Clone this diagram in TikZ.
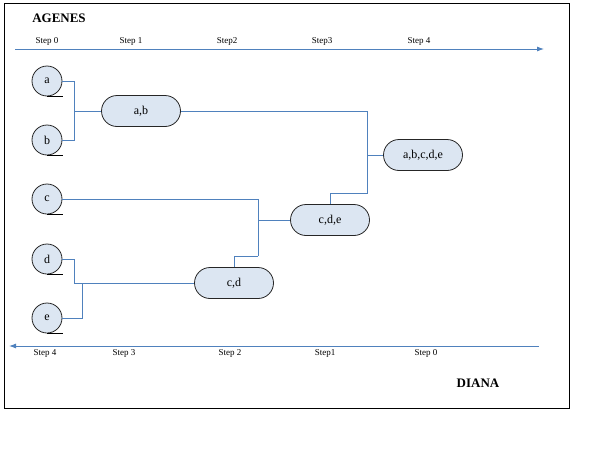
\documentclass[tikz,border=0pt]{standalone}
\usepackage{fontspec}
\setmainfont{Liberation Serif}
\usetikzlibrary{shapes.misc,arrows.meta}
\definecolor{linkblue}{HTML}{4F81BD}
\definecolor{nodefill}{HTML}{DCE6F2}
\begin{document}
\begin{tikzpicture}[x=1pt,y=-1pt,
  link/.style={draw=linkblue, line width=0.9pt},
  leaf/.style={circle, draw=black!85, fill=nodefill, minimum size=30pt, inner sep=0pt, line width=0.8pt, font=\fontsize{12}{14}\selectfont},
  cluster/.style={rounded rectangle, draw=black!85, fill=nodefill, minimum width=79pt, minimum height=31pt, inner sep=0pt, line width=0.8pt, font=\fontsize{12}{14}\selectfont},
  steplbl/.style={font=\fontsize{9}{10}\selectfont, inner sep=0pt},
  title/.style={font=\fontsize{13}{15}\selectfont\bfseries, inner sep=0pt},
  axisarrow/.style={draw=linkblue, line width=0.9pt, -{Latex[length=7pt,width=5pt]}},
  tail/.style={draw=black, line width=0.9pt}
]
\useasboundingbox[fill=white] (0,0) rectangle (600,450);
\draw[black, line width=1pt] (4,3) rectangle (569,408);

% titles
\node[title] (agenes) at (59,18) {AGENES};
\node[title] (diana) at (478,383) {DIANA};

% top axis
\coordinate (ta) at (15,49);
\coordinate (tb) at (544,49);
\draw[axisarrow] (ta) -- (tb);
\node[steplbl] (s0) at (47,41) {Step 0};
\node[steplbl] (s1) at (131,41) {Step 1};
\node[steplbl] (s2) at (227,41) {Step2};
\node[steplbl] (s3) at (322,41) {Step3};
\node[steplbl] (s4) at (419,41) {Step 4};

% bottom axis
\coordinate (ba) at (539,346);
\coordinate (bb) at (9,346);
\draw[axisarrow] (ba) -- (bb);
\node[steplbl] (r4) at (45,353) {Step 4};
\node[steplbl] (r3) at (124,353) {Step 3};
\node[steplbl] (r2) at (230,353) {Step 2};
\node[steplbl] (r1) at (325,353) {Step1};
\node[steplbl] (r0) at (426,353) {Step 0};

% leaves
\node[leaf] (a) at (47,81) {a};
\node[leaf] (b) at (47,140) {b};
\node[leaf] (c) at (47,199) {c};
\node[leaf] (d) at (47,259) {d};
\node[leaf] (e) at (47,318) {e};
\foreach \n in {a,b,c,d,e}{
  \draw[tail] (\n.south) -- ++(16,0);
}

% clusters
\node[cluster] (ab) at (141,111) {a,b};
\node[cluster] (cd) at (234,283) {c,d};
\node[cluster] (cde) at (330,220) {c,d,e};
\node[cluster] (abcde) at (423,155) {a,b,c,d,e};

% connectors
\coordinate (jab) at (74,111);
\draw[link] (a.east) -| (jab);
\draw[link] (b.east) -| (jab);
\draw[link] (jab) -- (ab.west);

\coordinate (jd) at (74,283);
\coordinate (je) at (82,283);
\draw[link] (d.east) -| (jd) -- (cd.west);
\draw[link] (e.east) -| (je);

\coordinate (jc) at (258,220);
\coordinate (jcd) at (258,256);
\draw[link] (c.east) -| (jcd);
\draw[link] (cd.north) |- (jcd);
\draw[link] (jc) -- (cde.west);

\coordinate (jall) at (367,155);
\coordinate (jcde) at (367,193);
\draw[link] (ab.east) -| (jall) -- (abcde.west);
\draw[link] (cde.north) |- (jcde) -- (jall);
\end{tikzpicture}
\end{document}
